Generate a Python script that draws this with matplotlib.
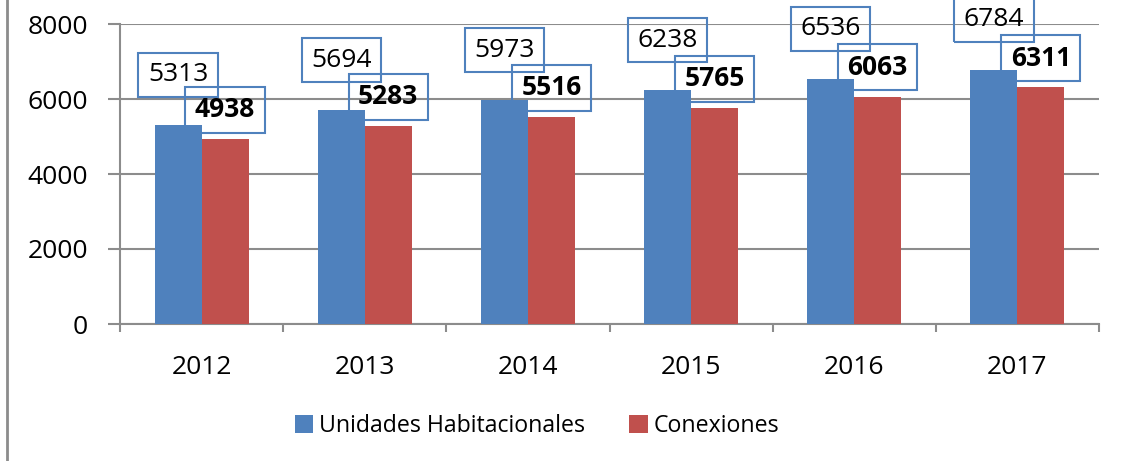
import numpy as np
import matplotlib
matplotlib.use('Agg')
import matplotlib.pyplot as plt
from matplotlib.lines import Line2D

years = ['2012', '2013', '2014', '2015', '2016', '2017']
unidades = [5313, 5694, 5973, 6238, 6536, 6784]
conexiones = [4938, 5283, 5516, 5765, 6063, 6311]

blue = '#4F81BD'
red = '#C0504D'
gray = '#8C8C8C'

plt.rcParams['font.family'] = ['Open Sans', 'DejaVu Sans']

fig = plt.figure(figsize=(11.22, 4.61), dpi=100)
ax = fig.add_axes([120 / 1122, 137 / 461, (1099 - 120) / 1122, (325 - 25) / 461])

x = np.arange(len(years))
w = 0.288
ax.bar(x - w / 2, unidades, w, color=blue, label='Unidades Habitacionales', zorder=3)
ax.bar(x + w / 2, conexiones, w, color=red, label='Conexiones', zorder=3)

# etiquetas con recuadro
for i in range(len(years)):
    ax.annotate(str(unidades[i]), (x[i] - w / 2, unidades[i]), xytext=(0, 36),
                textcoords='offset points', ha='center', va='center', fontsize=19,
                bbox=dict(boxstyle='square,pad=0.36', fc='none', ec=blue, lw=1.5), zorder=5)
    ax.annotate(str(conexiones[i]), (x[i] + w / 2, conexiones[i]), xytext=(0, 21),
                textcoords='offset points', ha='center', va='center', fontsize=19,
                fontweight='bold',
                bbox=dict(boxstyle='square,pad=0.36', fc='none', ec=blue, lw=1.5), zorder=5)

ax.set_xlim(-0.5, len(years) - 0.5)
ax.set_ylim(0, 8000)
ax.set_yticks([0, 2000, 4000, 6000, 8000])
ax.yaxis.grid(True, color=gray, linewidth=1.5, zorder=0)
ax.set_axisbelow(True)

ax.set_xticks(x)
ax.set_xticklabels(years)
ax.set_xticks(np.arange(-0.5, len(years), 1), minor=True)
ax.tick_params(axis='x', which='major', length=0, pad=22, labelsize=19)
ax.tick_params(axis='x', which='minor', length=6, width=1.5, color=gray, direction='out')
ax.tick_params(axis='y', length=9, width=1.5, color=gray, pad=14, labelsize=19)

for s in ['top', 'right']:
    ax.spines[s].set_visible(False)
for s in ['left', 'bottom']:
    ax.spines[s].set_color(gray)
    ax.spines[s].set_linewidth(1.5)

leg = fig.legend(loc='center', bbox_to_anchor=(537 / 1122, 1 - 426 / 461), ncol=2,
                 frameon=False, fontsize=16.7, handlelength=0.8, handleheight=0.8,
                 handletextpad=0.25, columnspacing=1.9)

fig.add_artist(Line2D([7 / 1122, 7 / 1122], [0, 1], color=gray, linewidth=2,
                      transform=fig.transFigure))

fig.savefig('out.png', dpi=100)
